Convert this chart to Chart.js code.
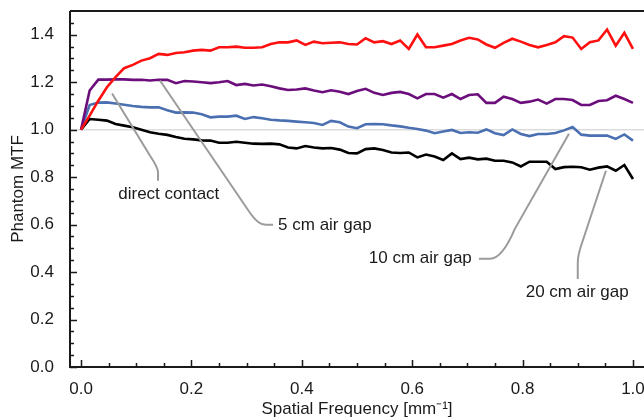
<!DOCTYPE html>
<html lang="en">
<head>
<meta charset="UTF-8" />
<title>Phantom MTF</title>
<style>
  body { margin: 0; background: #fff; }
  #wrap { width: 644px; height: 420px; }
</style>
</head>
<body>
  <div id="wrap"><canvas id="mtfChart"></canvas></div>

  <script src="https://cdn.jsdelivr.net/npm/chart.js"></script>
  <script>
    // Spatial frequency samples [1/mm]
    const freq = [0, .0156, .0313, .0469, .0625, .0781, .0938, .1094, .125, .1406, .1563, .1719, .1875,
      .2031, .2188, .2344, .25, .2656, .2813, .2969, .3125, .3281, .3438, .3594, .375, .3906, .4063,
      .4219, .4375, .4531, .4688, .4844, .5, .5156, .5313, .5469, .5625, .5781, .5938, .6094, .625,
      .6406, .6563, .6719, .6875, .7031, .7188, .7344, .75, .7656, .7813, .7969, .8125, .8281, .8438,
      .8594, .875, .8906, .9063, .9219, .9375, .9531, .9688, .9844, 1];

    const directContact = [1.0, 1.059, 1.122, 1.179, 1.221, 1.259, 1.273, 1.291, 1.301, 1.319, 1.315,
      1.323, 1.326, 1.333, 1.336, 1.333, 1.347, 1.347, 1.35, 1.345, 1.345,
      1.347, 1.361, 1.368, 1.368, 1.376, 1.357, 1.371, 1.364, 1.366, 1.368, 1.361, 1.359, 1.385,
      1.368, 1.373, 1.361, 1.376, 1.340, 1.401, 1.347, 1.347, 1.354,
      1.361, 1.376, 1.387, 1.380, 1.359, 1.345, 1.366, 1.383, 1.371, 1.357, 1.347, 1.357, 1.368,
      1.394, 1.388, 1.340, 1.368, 1.376, 1.422, 1.354, 1.408, 1.340];

    const gap5 = [1.0, 1.165, 1.211, 1.211, 1.212, 1.212, 1.210, 1.210, 1.207, 1.210, 1.210, 1.196,
      1.205, 1.203, 1.200, 1.196, 1.200, 1.205, 1.188, 1.193, 1.186,
      1.190, 1.183, 1.174, 1.167, 1.169, 1.174, 1.165, 1.158, 1.166, 1.160, 1.150, 1.163, 1.172,
      1.155, 1.146, 1.155, 1.159, 1.150, 1.132, 1.150, 1.150, 1.135,
      1.150, 1.129, 1.146, 1.149, 1.113, 1.113, 1.139, 1.129, 1.113, 1.118, 1.127, 1.110, 1.129,
      1.129, 1.125, 1.104, 1.104, 1.121, 1.124, 1.143, 1.129, 1.113];

    const gap10 = [1.0, 1.104, 1.114, 1.115, 1.110, 1.105, 1.100, 1.096, 1.094, 1.094, 1.082, 1.072,
      1.073, 1.072, 1.065, 1.052, 1.055, 1.055, 1.059, 1.045, 1.053,
      1.048, 1.042, 1.039, 1.037, 1.034, 1.031, 1.028, 1.020, 1.037, 1.031, 1.013, 1.006, 1.023,
      1.024, 1.023, 1.018, 1.014, 1.008, 1.003, 0.996, 0.985, 0.992,
      0.999, 0.986, 0.989, 0.987, 1.001, 0.985, 0.977, 1.001, 0.982, 0.973, 0.982, 0.982, 0.986,
      0.997, 1.011, 0.979, 0.975, 0.975, 0.975, 0.961, 0.980, 0.954];

    const gap20 = [1.0, 1.045, 1.042, 1.038, 1.024, 1.017, 1.010, 1.000, 0.989, 0.983, 0.978, 0.969,
      0.962, 0.959, 0.955, 0.954, 0.945, 0.945, 0.949, 0.945, 0.941,
      0.940, 0.941, 0.938, 0.925, 0.921, 0.931, 0.925, 0.921, 0.923, 0.916, 0.902, 0.900, 0.918,
      0.921, 0.914, 0.904, 0.902, 0.904, 0.883, 0.895, 0.887, 0.872,
      0.900, 0.876, 0.882, 0.875, 0.878, 0.869, 0.869, 0.862, 0.845, 0.865, 0.865, 0.865, 0.834,
      0.842, 0.844, 0.842, 0.831, 0.840, 0.845, 0.827, 0.851, 0.792];

    const xTicks = [0, 0.2, 0.4, 0.6, 0.8, 1.0];
    const yTicks = [0, 0.2, 0.4, 0.6, 0.8, 1.0, 1.2, 1.4];

    const FONT = { family: '"Liberation Sans", Arial, Helvetica, sans-serif', size: 17 };
    const TEXT = '#1a1a1a';

    // callout labels, anchored in data units: leader path then text
    const callouts = [
      { text: 'direct contact', align: 'center', tx: 0.159, ty: 0.728,
        path: [[0.0562, 1.152], [0.125, 0.890], ['q', 0.1395, 0.840, 0.1395, 0.819], [0.1395, 0.785]] },
      { text: '5 cm air gap', align: 'left', tx: 0.357, ty: 0.599,
        path: [[0.143, 1.207], [0.306, 0.650], ['q', 0.3207, 0.599, 0.335, 0.599], [0.348, 0.599]] },
      { text: '10 cm air gap', align: 'right', tx: 0.708, ty: 0.456,
        path: [[0.884, 0.983], [0.786, 0.582], ['q', 0.763, 0.456, 0.741, 0.456], [0.721, 0.456]] },
      { text: '20 cm air gap', align: 'center', tx: 0.899, ty: 0.314,
        path: [[0.951, 0.827], [0.906, 0.511], ['q', 0.900, 0.468, 0.900, 0.439], [0.900, 0.371]] }
    ];

    const toPts = arr => freq.map((f, i) => ({ x: f, y: arr[i] }));

    const refLine = {
      id: 'refLine',
      beforeDatasetsDraw(chart) {
        const { ctx, chartArea: a, scales: { y } } = chart;
        const py = y.getPixelForValue(1.0);
        ctx.save();
        ctx.strokeStyle = '#dcdcdc';
        ctx.lineWidth = 1.5;
        ctx.beginPath();
        ctx.moveTo(a.left, py);
        ctx.lineTo(a.right, py);
        ctx.stroke();
        ctx.restore();
      }
    };

    const callouts_ = {
      id: 'callouts',
      afterDatasetsDraw(chart) {
        const { ctx, scales: { x, y } } = chart;
        ctx.save();
        ctx.strokeStyle = '#9b9b9b';
        ctx.lineWidth = 2;
        callouts.forEach(c => {
          ctx.beginPath();
          c.path.forEach((p, i) => {
            if (p[0] === 'q') {
              ctx.quadraticCurveTo(x.getPixelForValue(p[1]), y.getPixelForValue(p[2]),
                x.getPixelForValue(p[3]), y.getPixelForValue(p[4]));
            } else if (i === 0) {
              ctx.moveTo(x.getPixelForValue(p[0]), y.getPixelForValue(p[1]));
            } else {
              ctx.lineTo(x.getPixelForValue(p[0]), y.getPixelForValue(p[1]));
            }
          });
          ctx.stroke();
          ctx.fillStyle = TEXT;
          ctx.font = `${FONT.size}px ${FONT.family}`;
          ctx.textAlign = c.align;
          ctx.textBaseline = 'middle';
          ctx.fillText(c.text, x.getPixelForValue(c.tx), y.getPixelForValue(c.ty));
        });
        ctx.restore();
      }
    };

    const frame = {
      id: 'frame',
      afterDraw(chart) {
        const { ctx, chartArea: a, scales: { x, y } } = chart;
        ctx.save();
        ctx.strokeStyle = '#1a1a1a';
        ctx.lineWidth = 2;
        ctx.beginPath();
        ctx.moveTo(a.left, a.top);
        ctx.lineTo(chart.width, a.top);
        ctx.moveTo(a.left, a.top);
        ctx.lineTo(a.left, a.bottom);
        ctx.lineTo(chart.width, a.bottom);
        ctx.stroke();
        // inward ticks, minor every 0.05
        ctx.lineWidth = 1.5;
        ctx.beginPath();
        for (let k = 0; k <= 30; k++) {
          const v = k * 0.05;
          const len = k % 4 === 0 ? 7 : 4;
          const py = Math.round(y.getPixelForValue(v)) + 0.5;
          if (py < a.top + 2) continue;
          ctx.moveTo(a.left, py);
          ctx.lineTo(a.left + len, py);
        }
        for (let k = 0; k <= 20; k++) {
          const v = k * 0.05;
          const len = k % 4 === 0 ? 7 : 4;
          const px = Math.round(x.getPixelForValue(v)) + 0.5;
          ctx.moveTo(px, a.bottom);
          ctx.lineTo(px, a.bottom - len);
        }
        ctx.stroke();
        ctx.restore();
      }
    };

    const mk = (data, color) => ({
      data: toPts(data),
      borderColor: color,
      backgroundColor: color,
      borderWidth: 2.6,
      pointRadius: 0,
      tension: 0,
      fill: false
    });

    new Chart(document.getElementById('mtfChart'), {
      type: 'line',
      data: {
        datasets: [
          { label: 'direct contact', ...mk(directContact, '#ff1010') },
          { label: '5 cm air gap', ...mk(gap5, '#6c0d7c') },
          { label: '10 cm air gap', ...mk(gap10, '#4b70b2') },
          { label: '20 cm air gap', ...mk(gap20, '#000000') }
        ]
      },
      options: {
        responsive: true,
        maintainAspectRatio: false,
        animation: false,
        layout: { autoPadding: false, padding: { top: 11, right: 0, left: 0, bottom: 0 } },
        plugins: { legend: { display: false }, tooltip: { enabled: false } },
        scales: {
          x: {
            type: 'linear',
            min: -0.02,
            max: 1.02,
            afterBuildTicks: s => { s.ticks = xTicks.map(v => ({ value: v })); },
            afterFit: s => { s.height = 53; s.paddingLeft = 0; s.paddingRight = 0; },
            grid: { display: false },
            border: { display: false },
            ticks: { font: FONT, color: TEXT, padding: 4, maxRotation: 0, autoSkip: false,
              callback: v => v.toFixed(1) },
            title: { display: true, text: 'Spatial Frequency [mm\u207B\u00B9]', font: FONT, color: TEXT,
              padding: { top: 0, bottom: 0 } }
          },
          y: {
            min: 0,
            max: 1.5,
            afterBuildTicks: s => { s.ticks = yTicks.map(v => ({ value: v })); },
            afterFit: s => { s.width = 70; s.paddingTop = 0; s.paddingBottom = 0; },
            grid: { display: false },
            border: { display: false },
            ticks: { font: FONT, color: TEXT, padding: 8, autoSkip: false,
              callback: v => v.toFixed(1) },
            title: { display: true, text: 'Phantom MTF', font: FONT, color: TEXT,
              padding: { top: 8, bottom: 0 } }
          }
        }
      },
      plugins: [refLine, callouts_, frame]
    });
  </script>
</body>
</html>
